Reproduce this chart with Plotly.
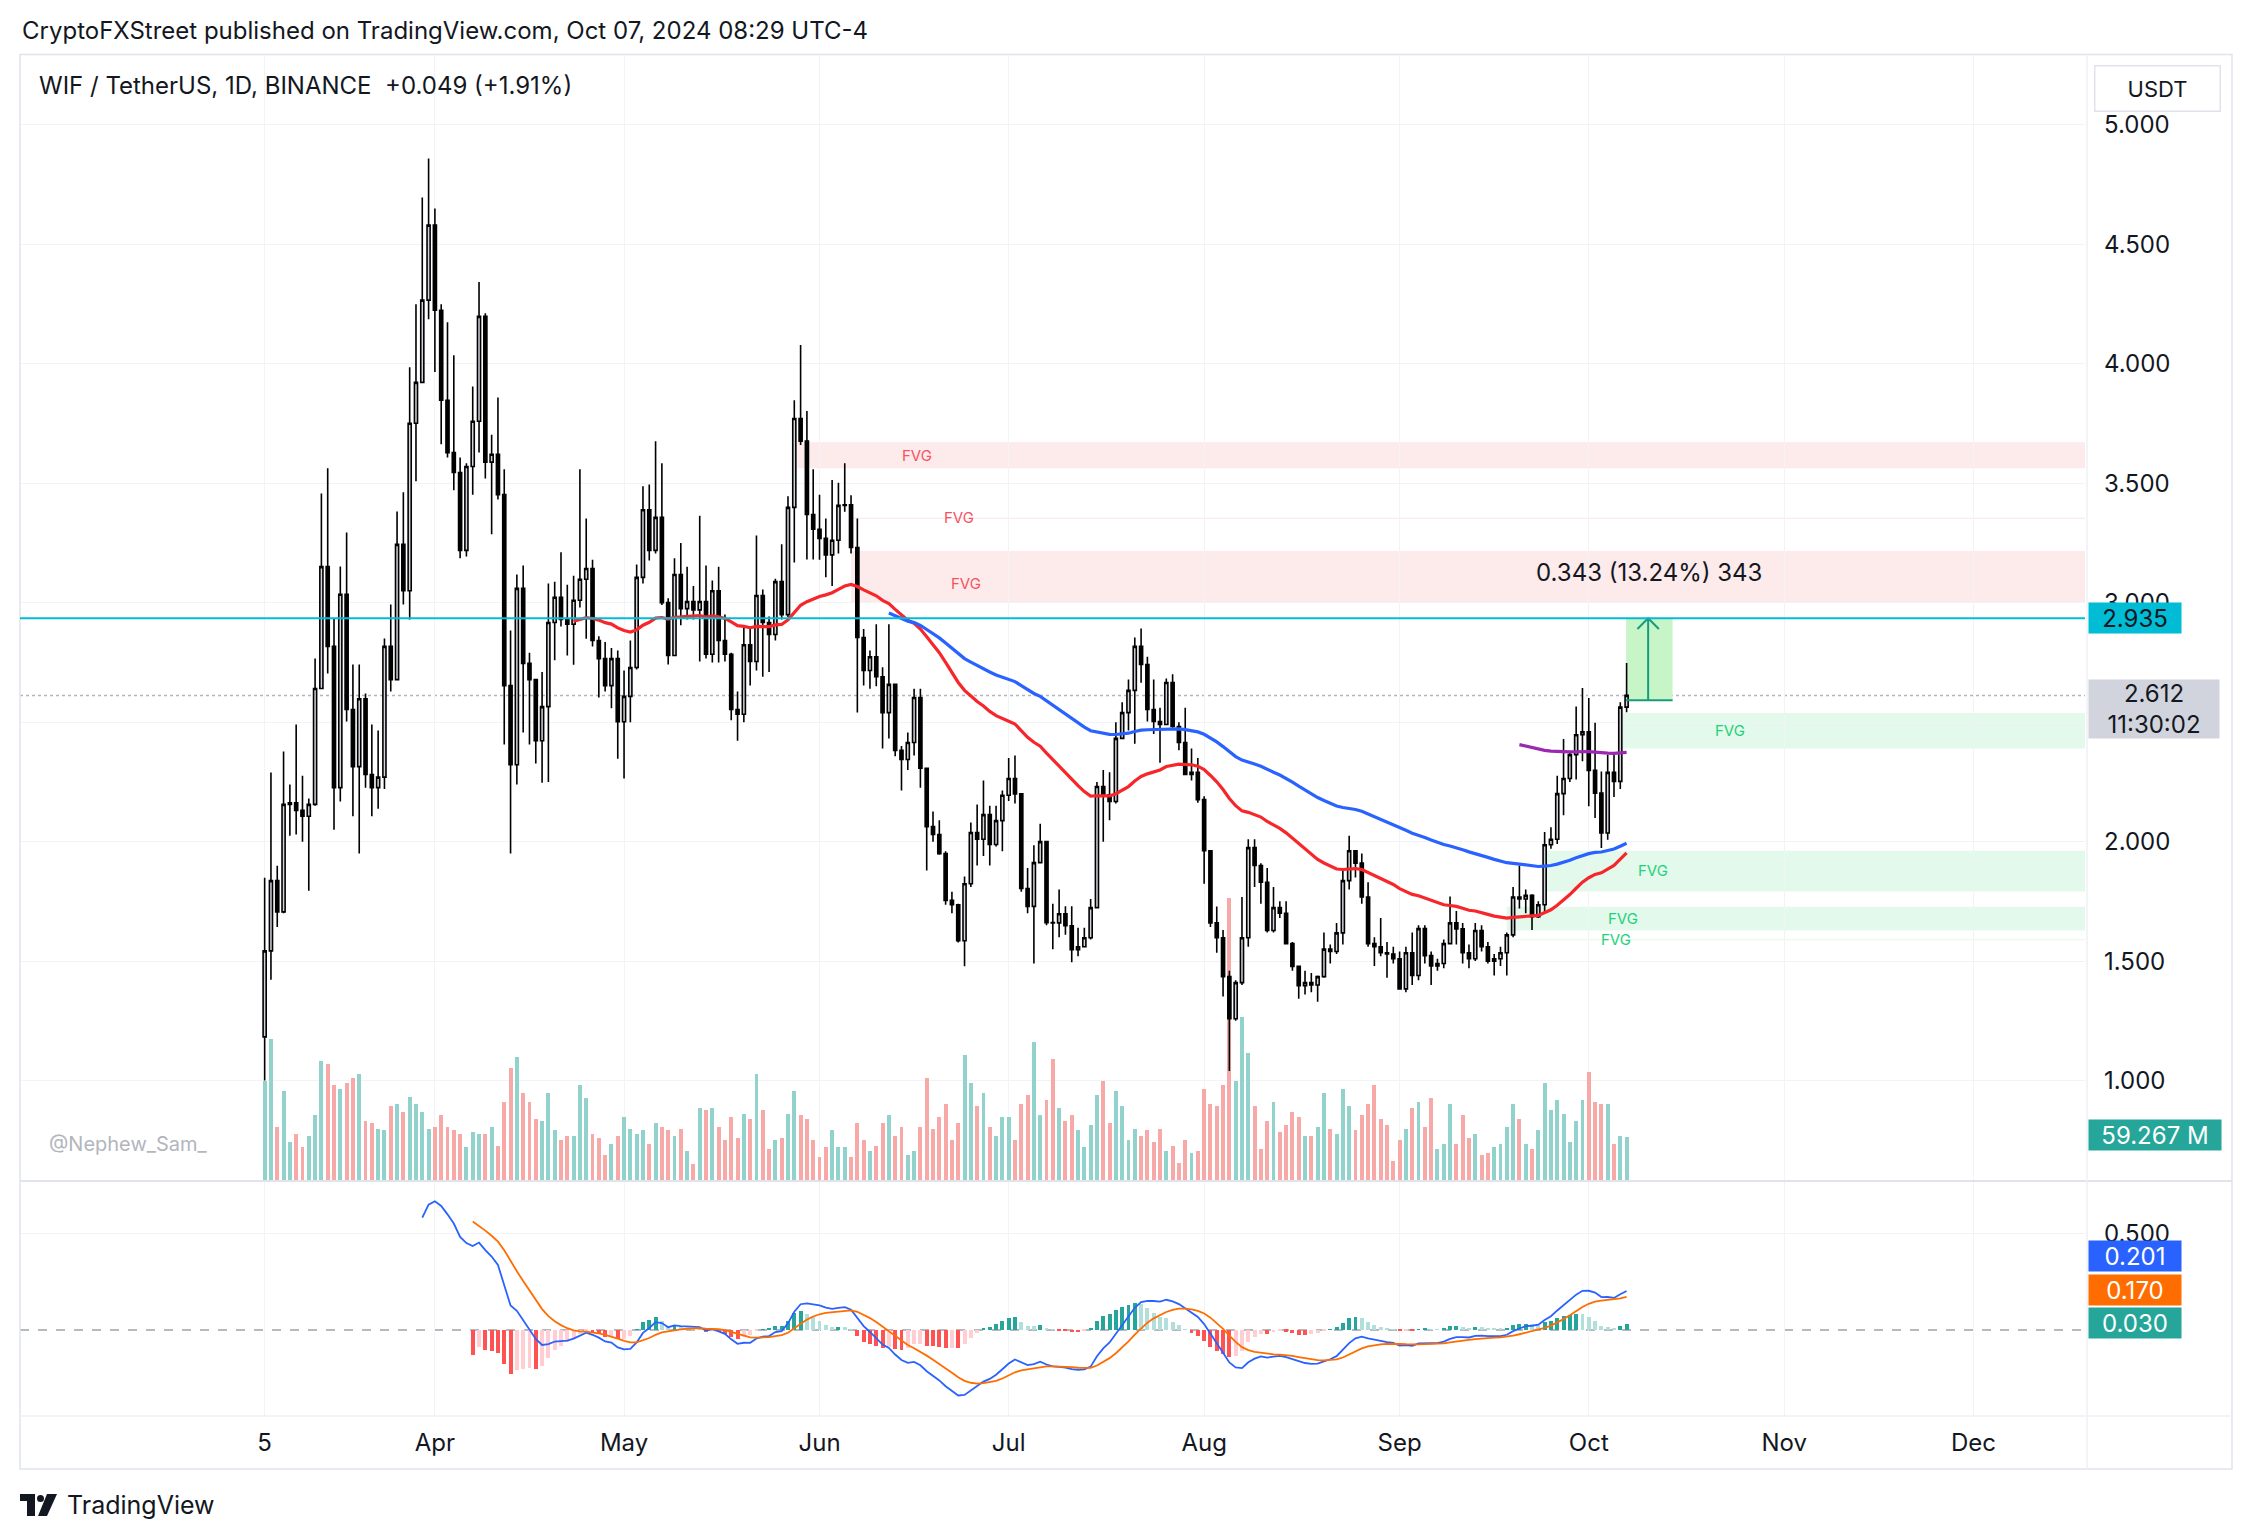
import pandas as pd
import plotly.graph_objects as go

# ---------------- data ----------------
START_DATE = "2024-03-05"
FIRST_OPEN = 1.183

closes = [
    1.543, 1.837, 1.706, 2.156, 2.163, 2.131, 2.106, 2.156, 2.641, 3.151,
    2.817, 2.226, 3.035, 2.553, 2.314, 2.598, 2.281, 2.226, 2.27, 2.817,
    2.678, 3.244, 3.05, 3.751, 3.922, 4.266, 4.58, 4.224, 3.847, 3.628,
    3.545, 3.219, 3.57, 3.759, 4.198, 3.588, 3.621, 3.452, 2.653, 2.322,
    3.06, 2.746, 2.678, 2.422, 2.565, 2.917, 3.023, 2.93, 2.91, 3.01,
    3.098, 3.143, 2.842, 2.766, 2.653, 2.766, 2.502, 2.608, 2.729, 3.106,
    3.389, 3.219, 3.357, 3.00, 2.779, 3.118, 2.975, 3.005, 2.97, 3.005,
    2.784, 3.05, 2.842, 2.784, 2.553, 2.533, 2.824, 2.754, 3.03, 2.917,
    2.867, 3.088, 2.95, 3.399, 3.771, 3.676, 3.369, 3.307, 3.269, 3.20,
    3.261, 3.407, 3.41, 3.231, 2.854, 2.716, 2.774, 2.69, 2.54, 2.658,
    2.382, 2.344, 2.415, 2.603, 2.307, 2.063, 2.03, 1.95, 1.754, 1.736,
    1.585, 1.824, 2.038, 2.01, 2.113, 1.988, 2.088, 2.194, 2.264, 2.20,
    1.804, 1.729, 1.912, 2.00, 1.661, 1.66, 1.698, 1.648, 1.548, 1.56,
    1.598, 1.724, 2.231, 2.196, 2.168, 2.432, 2.54, 2.633, 2.817, 2.741,
    2.553, 2.503, 2.49, 2.666, 2.482, 2.415, 2.281, 2.29, 2.176, 1.962,
    1.66, 1.598, 1.435, 1.259, 1.41, 1.598, 1.975, 1.90, 1.83, 1.628,
    1.724, 1.70, 1.573, 1.478, 1.397, 1.41, 1.40, 1.435, 1.55, 1.54,
    1.618, 1.837, 1.962, 1.91, 1.768, 1.573, 1.56, 1.535, 1.53, 1.51,
    1.384, 1.535, 1.44, 1.636, 1.523, 1.48, 1.49, 1.573, 1.66, 1.635,
    1.535, 1.51, 1.628, 1.56, 1.50, 1.51, 1.535, 1.61, 1.768, 1.76,
    1.775, 1.686, 1.736, 1.987, 2.01, 2.201, 2.264, 2.364, 2.447, 2.46,
    2.298, 2.203, 2.036, 2.29, 2.252, 2.563, 2.612,
]
highs = [
    1.849, 2.289, 1.899, 2.377, 2.239, 2.49, 2.276, 2.18, 2.766, 3.457,
    3.563, 2.935, 3.151, 3.294, 2.741, 2.741, 2.62, 2.49, 2.465, 2.85,
    2.992, 3.382, 3.462, 3.985, 4.249, 4.696, 4.859, 4.65, 4.249, 4.173,
    4.035, 3.608, 3.583, 3.905, 4.342, 4.211, 3.703, 3.859, 3.558, 2.884,
    3.118, 3.156, 2.79, 2.676, 2.71, 3.08, 3.088, 3.211, 3.075, 3.113,
    3.558, 3.352, 3.18, 2.86, 2.835, 2.81, 2.80, 2.716, 2.842, 3.16,
    3.487, 3.495, 3.676, 3.583, 3.018, 3.186, 3.25, 3.15, 3.07, 3.364,
    3.156, 3.093, 3.15, 2.95, 2.79, 2.628, 2.905, 2.892, 3.281, 3.055,
    2.942, 3.10, 3.244, 3.445, 3.847, 4.078, 3.802, 3.558, 3.452, 3.352,
    3.513, 3.502, 3.583, 3.45, 3.352, 2.89, 2.80, 2.91, 2.73, 2.91,
    2.66, 2.40, 2.457, 2.64, 2.64, 2.307, 2.126, 2.09, 1.96, 1.79,
    1.74, 1.854, 2.08, 2.155, 2.256, 2.15, 2.15, 2.214, 2.35, 2.36,
    2.20, 1.89, 1.985, 2.075, 2.00, 1.74, 1.80, 1.73, 1.73, 1.64,
    1.64, 1.76, 2.25, 2.30, 2.29, 2.50, 2.583, 2.678, 2.854, 2.892,
    2.774, 2.678, 2.56, 2.683, 2.70, 2.50, 2.56, 2.39, 2.35, 2.19,
    1.96, 1.729, 1.63, 1.46, 1.42, 1.768, 2.01, 2.01, 1.91, 1.89,
    1.81, 1.75, 1.75, 1.58, 1.48, 1.46, 1.45, 1.44, 1.62, 1.57,
    1.66, 1.88, 2.025, 1.965, 1.95, 1.83, 1.60, 1.68, 1.58, 1.56,
    1.54, 1.56, 1.62, 1.65, 1.65, 1.54, 1.51, 1.59, 1.77, 1.71,
    1.66, 1.57, 1.66, 1.65, 1.58, 1.53, 1.56, 1.62, 1.81, 1.90,
    1.80, 1.78, 1.75, 2.04, 2.06, 2.276, 2.43, 2.377, 2.565, 2.643,
    2.601, 2.497, 2.294, 2.364, 2.364, 2.583, 2.748,
]
lows = [
    1.00, 1.422, 1.643, 1.70, 2.025, 2.03, 2.00, 1.794, 2.15, 2.64,
    2.704, 2.05, 2.168, 2.503, 2.106, 1.95, 2.226, 2.106, 2.138, 2.22,
    2.628, 2.678, 2.992, 2.93, 3.508, 3.92, 4.186, 3.965, 3.663, 3.608,
    3.47, 3.186, 3.193, 3.452, 3.628, 3.52, 3.286, 3.432, 2.407, 1.95,
    2.239, 2.457, 2.407, 2.327, 2.246, 2.25, 2.759, 2.90, 2.779, 2.74,
    2.98, 2.849, 2.817, 2.603, 2.628, 2.558, 2.347, 2.264, 2.50, 2.72,
    3.08, 3.176, 3.206, 2.99, 2.741, 2.78, 2.905, 2.93, 2.93, 2.754,
    2.766, 2.75, 2.75, 2.754, 2.508, 2.422, 2.50, 2.653, 2.716, 2.69,
    2.71, 2.842, 2.93, 2.94, 3.168, 3.66, 3.181, 3.181, 3.18, 3.106,
    3.07, 3.206, 3.38, 3.206, 2.54, 2.653, 2.64, 2.65, 2.39, 2.432,
    2.357, 2.214, 2.30, 2.36, 2.226, 1.879, 2.00, 1.945, 1.736, 1.70,
    1.578, 1.478, 1.81, 1.90, 1.94, 1.90, 1.98, 1.96, 2.17, 2.16,
    1.79, 1.70, 1.49, 1.91, 1.65, 1.55, 1.60, 1.61, 1.495, 1.52,
    1.56, 1.59, 1.72, 2.00, 2.09, 2.16, 2.43, 2.465, 2.41, 2.665,
    2.503, 2.45, 2.33, 2.49, 2.477, 2.382, 2.28, 2.256, 2.163, 1.824,
    1.643, 1.535, 1.352, 1.04, 1.25, 1.40, 1.56, 1.81, 1.74, 1.62,
    1.62, 1.68, 1.57, 1.46, 1.342, 1.36, 1.37, 1.33, 1.43, 1.49,
    1.53, 1.57, 1.80, 1.85, 1.74, 1.56, 1.48, 1.52, 1.43, 1.49,
    1.38, 1.37, 1.40, 1.42, 1.49, 1.40, 1.46, 1.47, 1.57, 1.57,
    1.49, 1.47, 1.50, 1.54, 1.49, 1.44, 1.48, 1.44, 1.60, 1.72,
    1.70, 1.63, 1.68, 1.70, 1.97, 1.99, 2.11, 2.25, 2.26, 2.336,
    2.148, 2.099, 1.973, 2.008, 2.187, 2.22, 2.541,
]
volumes_m = [
    133.4, 190.8, 72.7, 121.2, 52.5, 62.0, 45.8, 60.6, 88.9, 161.6,
    157.6, 129.3, 123.9, 132.0, 137.4, 144.1, 80.8, 76.8, 70.0, 67.4,
    101.0, 103.7, 91.6, 113.1, 103.7, 92.9, 70.0, 72.7, 87.6, 71.4,
    68.7, 62.0, 44.5, 64.7, 62.0, 63.3, 72.7, 47.1, 105.1, 152.2,
    165.7, 117.2, 106.4, 82.2, 79.5, 117.2, 68.7, 53.9, 60.6, 60.6,
    128.0, 110.5, 62.0, 57.9, 33.7, 49.8, 60.6, 84.9, 70.0, 63.3,
    68.7, 48.5, 78.1, 72.7, 67.4, 60.6, 70.0, 39.1, 22.9, 98.3,
    95.6, 98.3, 71.4, 55.2, 86.2, 56.6, 90.2, 83.5, 142.8, 94.3,
    41.8, 53.9, 57.9, 90.2, 121.2, 87.6, 83.5, 55.2, 31.0, 45.8,
    68.7, 44.5, 45.8, 32.3, 76.8, 53.9, 40.4, 47.1, 78.1, 87.6,
    59.3, 72.7, 33.7, 40.4, 71.4, 137.4, 70.0, 84.9, 103.7, 55.2,
    78.1, 168.4, 132.0, 99.7, 118.5, 72.7, 59.3, 84.9, 86.2, 55.2,
    103.7, 115.8, 185.9, 87.6, 109.1, 164.3, 97.0, 80.8, 87.6, 68.7,
    45.8, 75.4, 115.8, 134.7, 78.1, 121.2, 101.0, 55.2, 70.0, 59.3,
    67.4, 51.2, 70.0, 40.4, 47.1, 24.2, 53.9, 37.7, 40.4, 122.6,
    102.4, 99.7, 128.0, 379.9, 133.4, 220.9, 171.1, 99.7, 43.1, 79.5,
    105.1, 64.7, 75.4, 92.9, 84.9, 59.3, 60.6, 72.7, 117.2, 70.0,
    63.3, 123.9, 101.0, 68.7, 87.6, 103.7, 129.3, 82.2, 75.4, 25.6,
    55.2, 70.0, 98.3, 106.4, 71.4, 110.5, 43.1, 49.8, 102.4, 49.8,
    87.6, 56.6, 63.3, 35.0, 37.7, 44.5, 48.5, 71.4, 102.4, 83.5,
    48.5, 43.1, 67.4, 132.0, 94.3, 109.1, 90.2, 52.5, 79.5, 109.1,
    146.8, 105.1, 102.4, 103.7, 48.5, 59.3, 59.267,
]

tick_dates = ["2024-03-05", "2024-04-01", "2024-05-01", "2024-06-01", "2024-07-01",
              "2024-08-01", "2024-09-01", "2024-10-01", "2024-11-01", "2024-12-01"]
tick_text = ["5", "Apr", "May", "Jun", "Jul", "Aug", "Sep", "Oct", "Nov", "Dec"]
price_ticks = [1.0, 1.5, 2.0, 2.5, 3.0, 3.5, 4.0, 4.5, 5.0]
price_tick_text = ["1.000", "1.500", "2.000", "", "3.000", "3.500", "4.000", "4.500", "5.000"]

level_price = 2.935
last_price = 2.612
measure_base = 2.592
measure_label = "0.343 (13.24%) 343"

fvg_kind = ["bear", "bear", "bear", "bull", "bull", "bull", "bull"]
fvg_start = ["2024-05-28 12:00", "2024-06-06", "2024-06-06", "2024-10-06 10:00",
             "2024-09-23 19:00", "2024-09-18", "2024-09-19"]
fvg_top = [3.671, 3.355, 3.216, 2.538, 1.962, 1.728, 1.591]
fvg_bottom = [3.563, 3.350, 3.000, 2.390, 1.791, 1.628, 1.587]
fvg_label_x = ["2024-06-16 10:00", "2024-06-23 02:00", "2024-06-24 07:00", "2024-10-23 10:00",
               "2024-10-11 05:00", "2024-10-06 10:00", "2024-10-05 07:00"]
fvg_label_y = [3.617, 3.357, 3.08, 2.464, 1.878, 1.677, 1.589]

# ---------------- derived series ----------------
dates = pd.date_range(START_DATE, periods=len(closes), freq="D")
opens = [FIRST_OPEN] + closes[:-1]


def ema_series(values, period):
    out = [None] * len(values)
    valid = [i for i, v in enumerate(values) if v is not None]
    first = valid[0]
    seed = first + period - 1
    if seed >= len(values):
        return out
    out[seed] = sum(values[first:seed + 1]) / period
    k = 2.0 / (period + 1)
    for i in range(seed + 1, len(values)):
        out[i] = values[i] * k + out[i - 1] * (1 - k)
    return out


ema50 = ema_series(closes, 50)
ema100 = ema_series(closes, 100)
ema200 = ema_series(closes, 200)
e12 = ema_series(closes, 12)
e26 = ema_series(closes, 26)
macd = [None if (a is None or b is None) else a - b for a, b in zip(e12, e26)]
signal = ema_series(macd, 9)
hist = [None if (m is None or s is None) else m - s for m, s in zip(macd, signal)]
hist_colors = []
prev = None
for h in hist:
    if h is None:
        hist_colors.append("rgba(0,0,0,0)")
    elif h >= 0:
        hist_colors.append("#26a69a" if (prev is not None and h > prev) else "#b2dfdb")
    else:
        hist_colors.append("#ffcdd2" if (prev is not None and h > prev) else "#ff5252")
    prev = h
vol_colors = ["#92d2cc" if c >= o else "#f7a9a7" for o, c in zip(opens, closes)]

# ---------------- geometry ----------------
W, H = 2250, 1540
def px(x):
    return x / W
def py(y):
    return 1 - y / H

X_L, X_R = 20, 2085
start_ts = pd.Timestamp(START_DATE)
x_range = [start_ts - pd.Timedelta(days=38.8), start_ts + pd.Timedelta(days=288.7)]
DAY_MS = 86400000
FONT = "Inter"
TXT = "#131722"
GRID = "#f2f3f6"
AX_FS = 24

fig = go.Figure()

# volume (base axis, drawn underneath)
fig.add_trace(go.Bar(x=dates, y=volumes_m, marker=dict(color=vol_colors, line=dict(width=0)),
                     width=0.62 * DAY_MS, xaxis="x", yaxis="y", hoverinfo="skip"))

# candles
fig.add_trace(go.Candlestick(
    x=dates, open=opens, high=highs, low=lows, close=closes,
    xaxis="x", yaxis="y3", whiskerwidth=0,
    increasing=dict(line=dict(color="#000000", width=1.6), fillcolor="#d1d4dc"),
    decreasing=dict(line=dict(color="#000000", width=1.6), fillcolor="#000000"),
    hoverinfo="skip"))

fig.add_trace(go.Scatter(x=dates, y=ema50, mode="lines", line=dict(color="#f7262b", width=3.2),
                         xaxis="x", yaxis="y3", hoverinfo="skip"))
fig.add_trace(go.Scatter(x=dates, y=ema100, mode="lines", line=dict(color="#2962ff", width=3.2),
                         xaxis="x", yaxis="y3", hoverinfo="skip"))
fig.add_trace(go.Scatter(x=dates, y=ema200, mode="lines", line=dict(color="#9c27b0", width=3.2),
                         xaxis="x", yaxis="y3", hoverinfo="skip"))

# measurement arrow
m_x = pd.Timestamp("2024-10-10 10:00")
fig.add_trace(go.Scatter(x=[m_x, m_x], y=[measure_base, level_price], mode="lines",
                         line=dict(color="#169c7c", width=2), xaxis="x", yaxis="y3", hoverinfo="skip"))
fig.add_trace(go.Scatter(x=[m_x - pd.Timedelta(days=1.7), m_x, m_x + pd.Timedelta(days=1.7)],
                         y=[level_price - 0.045, level_price, level_price - 0.045], mode="lines",
                         line=dict(color="#169c7c", width=2), xaxis="x", yaxis="y3", hoverinfo="skip"))

# MACD pane
fig.add_trace(go.Bar(x=dates, y=hist, marker=dict(color=hist_colors, line=dict(width=0)),
                     width=0.62 * DAY_MS, xaxis="x2", yaxis="y2", hoverinfo="skip"))
fig.add_trace(go.Scatter(x=dates, y=macd, mode="lines", line=dict(color="#2962ff", width=1.8),
                         xaxis="x2", yaxis="y2", hoverinfo="skip"))
fig.add_trace(go.Scatter(x=dates, y=signal, mode="lines", line=dict(color="#ff6d00", width=1.8),
                         xaxis="x2", yaxis="y2", hoverinfo="skip"))

price_dom = [py(1180), py(54.5)]
macd_dom = [py(1416), py(1181)]
xdom = [px(X_L), px(X_R)]

fig.update_layout(
    width=W, height=H, margin=dict(l=0, r=0, t=0, b=0),
    paper_bgcolor="white", plot_bgcolor="white", showlegend=False,
    font=dict(family=FONT, color=TXT),
    bargap=0,
    xaxis=dict(domain=xdom, anchor="y", range=x_range, type="date",
               tickvals=tick_dates, showticklabels=False, showgrid=True, gridcolor=GRID,
               zeroline=False, showline=False, rangeslider=dict(visible=False), fixedrange=True),
    yaxis=dict(domain=price_dom, anchor="x", range=[0, 1516], visible=False, showgrid=False),
    yaxis3=dict(domain=price_dom, anchor="x", overlaying="y", side="right", range=[0.584, 5.294],
                tickvals=price_ticks, ticktext=price_tick_text,
                showgrid=True, gridcolor=GRID, zeroline=False, showline=False, ticks="",
                ticklabelstandoff=18, tickfont=dict(size=AX_FS, color=TXT, family=FONT)),
    xaxis2=dict(domain=xdom, anchor="y2", range=x_range, type="date",
                tickvals=tick_dates, ticktext=tick_text, showgrid=True, gridcolor=GRID,
                zeroline=False, showline=False, ticks="", ticklabelstandoff=10,
                tickfont=dict(size=AX_FS, color=TXT, family=FONT)),
    yaxis2=dict(domain=macd_dom, anchor="x2", side="right", range=[-0.448, 0.776],
                tickvals=[0.5], ticktext=["0.500"], showgrid=True, gridcolor=GRID,
                zeroline=False, showline=False, ticks="", ticklabelstandoff=18,
                tickfont=dict(size=AX_FS, color=TXT, family=FONT)),
)

shapes = []
# frame + separators
shapes.append(dict(type="rect", xref="paper", yref="paper", x0=px(20), x1=px(2232), y0=py(1469), y1=py(54.5),
                   line=dict(color="#e0e3eb", width=1.5), layer="above"))
shapes.append(dict(type="line", xref="paper", yref="paper", x0=px(20), x1=px(2232), y0=py(1181), y1=py(1181),
                   line=dict(color="#e0e3eb", width=2), layer="above"))
shapes.append(dict(type="line", xref="paper", yref="paper", x0=px(20), x1=px(2232), y0=py(1416), y1=py(1416),
                   line=dict(color="#eef0f4", width=1.5), layer="above"))
shapes.append(dict(type="line", xref="paper", yref="paper", x0=px(2087), x1=px(2087), y0=py(1469), y1=py(54.5),
                   line=dict(color="#eef0f4", width=1.5), layer="above"))
# FVG zones
for kind, xs, top, bot in zip(fvg_kind, fvg_start, fvg_top, fvg_bottom):
    fill = "#fdeaea" if kind == "bear" else "#e2f9eb"
    shapes.append(dict(type="rect", xref="x", yref="y3", x0=xs, x1=x_range[1], y0=bot, y1=top,
                       fillcolor=fill, line=dict(width=0), layer="below"))
# measurement box
shapes.append(dict(type="rect", xref="x", yref="y3", x0="2024-10-06 22:00", x1="2024-10-14 07:00",
                   y0=measure_base, y1=level_price, fillcolor="#c8f5c8", line=dict(width=0), layer="below"))
shapes.append(dict(type="line", xref="x", yref="y3", x0="2024-10-06 22:00", x1="2024-10-14 07:00",
                   y0=measure_base, y1=measure_base, line=dict(color="#169c7c", width=2)))
# horizontal level + last price line
shapes.append(dict(type="line", xref="x domain", yref="y3", x0=0, x1=1, y0=level_price, y1=level_price,
                   line=dict(color="#00bcd4", width=2)))
shapes.append(dict(type="line", xref="x domain", yref="y3", x0=0, x1=1, y0=last_price, y1=last_price,
                   line=dict(color="#b2b5be", width=1.5, dash="dot"), layer="below"))
# MACD zero line
shapes.append(dict(type="line", xref="x2 domain", yref="y2", x0=0, x1=1, y0=0, y1=0,
                   line=dict(color="#9ea2ab", width=1.5, dash="dash"), layer="below"))
# TradingView logo glyph
shapes.append(dict(type="rect", xref="paper", yref="paper", x0=px(20), x1=px(35), y0=py(1501), y1=py(1494),
                   fillcolor=TXT, line=dict(width=0)))
shapes.append(dict(type="rect", xref="paper", yref="paper", x0=px(27), x1=px(35), y0=py(1516), y1=py(1494),
                   fillcolor=TXT, line=dict(width=0)))
shapes.append(dict(type="circle", xref="paper", yref="paper", x0=px(37), x1=px(44), y0=py(1502), y1=py(1495),
                   fillcolor=TXT, line=dict(width=0)))
shapes.append(dict(type="path", xref="paper", yref="paper",
                   path="M %f %f L %f %f L %f %f L %f %f Z" % (px(47), py(1494), px(57), py(1494),
                                                               px(47), py(1516), px(38), py(1516)),
                   fillcolor=TXT, line=dict(width=0)))
fig.update_layout(shapes=shapes)

ann = []
ann.append(dict(text="CryptoFXStreet published on TradingView.com, Oct 07, 2024 08:29 UTC-4",
                xref="paper", yref="paper", x=px(20), y=py(31), xanchor="left", yanchor="middle",
                showarrow=False, font=dict(size=24, color=TXT, family=FONT)))
ann.append(dict(text="WIF / TetherUS, 1D, BINANCE \u00a0+0.049 (+1.91%)",
                xref="paper", yref="paper", x=px(37), y=py(86), xanchor="left", yanchor="middle",
                showarrow=False, font=dict(size=24, color=TXT, family=FONT)))
ann.append(dict(text="@Nephew_Sam_", xref="paper", yref="paper", x=px(47), y=py(1144),
                xanchor="left", yanchor="middle", showarrow=False,
                font=dict(size=20, color="#b2b5be", family=FONT)))
ann.append(dict(text="TradingView", xref="paper", yref="paper", x=px(65), y=py(1505),
                xanchor="left", yanchor="middle", showarrow=False,
                font=dict(size=25, color=TXT, family=FONT)))
for kind, lx, ly in zip(fvg_kind, fvg_label_x, fvg_label_y):
    ann.append(dict(text="FVG", xref="x", yref="y3", x=lx, y=ly, showarrow=False,
                    font=dict(size=15, color="#f7525f" if kind == "bear" else "#22d07a", family=FONT)))
ann.append(dict(text=measure_label, xref="x", yref="y3", x="2024-10-10 12:00", y=3.126, showarrow=False,
                font=dict(size=24, color=TXT, family=FONT)))
# right-axis labels
def axis_label(text, ycenter, bg, fg, width=92, height=30):
    return dict(text=text, xref="paper", yref="paper", x=px(2088), y=py(ycenter), xanchor="left",
                yanchor="middle", showarrow=False, bgcolor=bg, width=width, height=height,
                borderpad=0, align="center", font=dict(size=AX_FS, color=fg, family=FONT))
ann.append(axis_label("2.935", 618.5, "#00bcd4", TXT))
ann.append(axis_label("2.612<br>11:30:02", 709, "#d1d4dc", TXT, width=130, height=58))
ann.append(axis_label("59.267 M", 1135, "#26a69a", "white", width=132))
ann.append(axis_label("0.201", 1256, "#2962ff", "white"))
ann.append(axis_label("0.170", 1290, "#ff6d00", "white"))
ann.append(axis_label("0.030", 1323, "#26a69a", "white"))
ann.append(dict(text="USDT", xref="paper", yref="paper", x=px(2157), y=py(88), xanchor="center",
                yanchor="middle", showarrow=False, bgcolor="white", bordercolor="#e0e3eb", borderwidth=1.5,
                width=124, height=44, borderpad=0, font=dict(size=22, color=TXT, family=FONT)))
fig.update_layout(annotations=ann)

fig.write_html("out.html", config={"displayModeBar": False},
               post_script="document.body.style.margin='0px';")
